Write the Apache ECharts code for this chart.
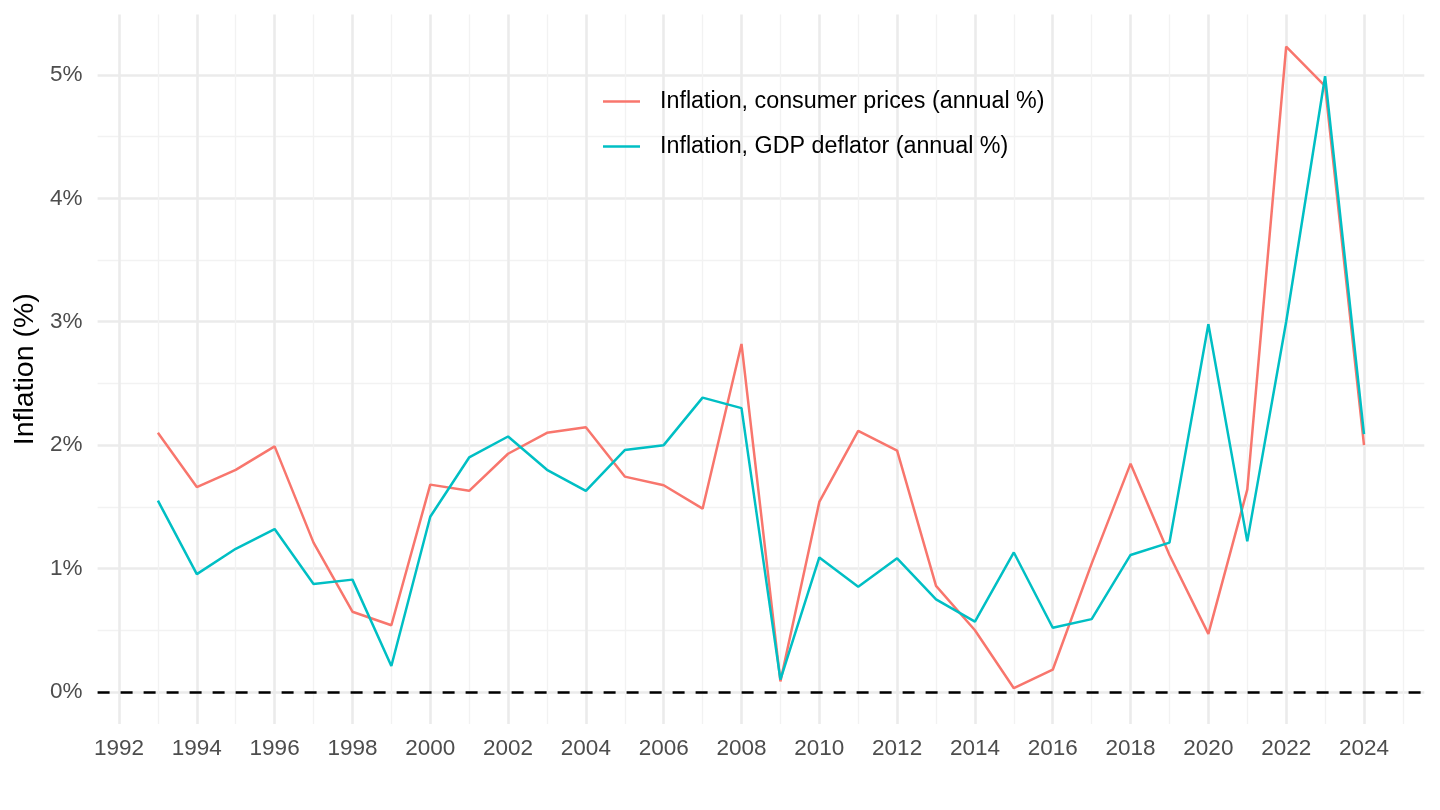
<!DOCTYPE html>
<html>
<head>
<meta charset="utf-8">
<script src="https://cdn.jsdelivr.net/npm/echarts@6/dist/echarts.min.js"></script>
<style>
html,body{margin:0;padding:0;background:#fff;}
#c{width:1440px;height:810px;}
</style>
</head>
<body>
<div id="c"></div>
<script>
const years = [1993,1994,1995,1996,1997,1998,1999,2000,2001,2002,2003,2004,2005,2006,2007,2008,2009,2010,2011,2012,2013,2014,2015,2016,2017,2018,2019,2020,2021,2022,2023,2024];
const cpi = [2.10,1.66,1.80,1.99,1.21,0.65,0.54,1.68,1.63,1.93,2.10,2.145,1.745,1.675,1.485,2.82,0.085,1.54,2.115,1.955,0.86,0.50,0.03,0.18,1.04,1.85,1.11,0.47,1.64,5.23,4.91,2.00];
const gdp = [1.55,0.955,1.16,1.32,0.875,0.91,0.21,1.42,1.90,2.07,1.80,1.63,1.96,2.00,2.385,2.30,0.10,1.09,0.853,1.083,0.75,0.57,1.13,0.52,0.59,1.11,1.21,2.98,1.22,3.00,4.99,2.09];
const xMajor = [1992,1994,1996,1998,2000,2002,2004,2006,2008,2010,2012,2014,2016,2018,2020,2022,2024];
const xMinor = [1993,1995,1997,1999,2001,2003,2005,2007,2009,2011,2013,2015,2017,2019,2021,2023,2025];
const yMajor = [0,1,2,3,4,5];
const yMinor = [0.5,1.5,2.5,3.5,4.5];
const seriesNames = ['Inflation, consumer prices (annual %)','Inflation, GDP deflator (annual %)'];
const colors = ['#F8766D','#00BFC4'];

const FONT = 'Liberation Sans, Arial, Helvetica, sans-serif';
const xMin = 1991.45, xMax = 2025.55, yMin = -0.26, yMax = 5.49;

const chart = echarts.init(document.getElementById('c'));
const hidden = {show:false};
chart.setOption({
  animation:false,
  backgroundColor:'#ffffff',
  color: colors,
  textStyle:{fontFamily:FONT},
  grid:{left:97.6, right:15.7, top:14.5, bottom:86, containLabel:false},
  legend:{
    orient:'vertical', left:598, top:85,
    icon:'rect',
    itemWidth:37, itemHeight:2.6, itemGap:22,
    data: seriesNames,
    textStyle:{fontFamily:FONT, fontSize:23.3, color:'#000', lineHeight:23, padding:[0,0,0,15]}
  },
  xAxis:[
    {type:'value', min:xMin, max:xMax, gridIndex:0,
     axisLine:hidden,
     axisTick:{show:false, customValues:xMajor},
     axisLabel:{customValues:xMajor, color:'#4d4d4d', fontSize:22.5, fontFamily:FONT, margin:13, formatter:v=>String(v)},
     splitLine:{show:true, lineStyle:{color:'#ebebeb', width:2.6}}},
    {type:'value', min:xMin, max:xMax, gridIndex:0,
     axisLine:hidden,
     axisTick:{show:false, customValues:xMinor},
     axisLabel:{show:false, customValues:xMinor},
     splitLine:{show:true, lineStyle:{color:'#f2f2f2', width:1.3}}}
  ],
  yAxis:[
    {type:'value', min:yMin, max:yMax, gridIndex:0,
     name:'Inflation (%)', nameLocation:'middle', nameGap:58,
     nameTextStyle:{fontFamily:FONT, fontSize:28.5, color:'#000'},
     axisLine:hidden,
     axisTick:{show:false, customValues:yMajor},
     axisLabel:{customValues:yMajor, color:'#4d4d4d', fontSize:22.5, fontFamily:FONT, margin:15, formatter:v=>v+'%'},
     splitLine:{show:true, lineStyle:{color:'#ebebeb', width:2.6}}},
    {type:'value', min:yMin, max:yMax, gridIndex:0,
     axisLine:hidden,
     axisTick:{show:false, customValues:yMinor},
     axisLabel:{show:false, customValues:yMinor},
     splitLine:{show:true, lineStyle:{color:'#f2f2f2', width:1.3}}}
  ],
  series:[
    {name:seriesNames[0], type:'line', xAxisIndex:0, yAxisIndex:0, symbol:'none', z:3,
     lineStyle:{width:2.5, color:colors[0]},
     data: years.map((y,i)=>[y,cpi[i]]),
     markLine:{silent:true, symbol:'none', label:{show:false},
       lineStyle:{color:'#000', type:[12,11], width:2.6},
       data:[{yAxis:0}]}},
    {name:seriesNames[1], type:'line', xAxisIndex:0, yAxisIndex:0, symbol:'none', z:4,
     lineStyle:{width:2.5, color:colors[1]},
     data: years.map((y,i)=>[y,gdp[i]])}
  ]
});
</script>
</body>
</html>
